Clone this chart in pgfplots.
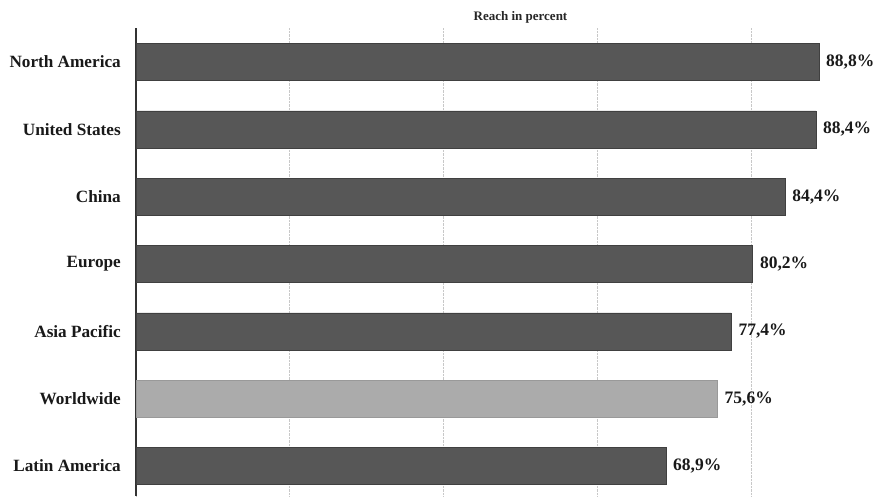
\documentclass[border=0pt]{standalone}
\usepackage{pgfplots}
\pgfplotsset{compat=1.18}
\usepackage{fontspec}
\setmainfont{Liberation Serif}
\definecolor{bardark}{HTML}{575757}
\definecolor{barlight}{HTML}{ABABAB}
\definecolor{gridc}{HTML}{C8C8C8}
\begin{document}
\begin{tikzpicture}
\useasboundingbox (0pt,0pt) rectangle (875pt,496pt);
\begin{axis}[
  at={(136pt,0pt)}, anchor=south west,
  scale only axis, width=769pt, height=468pt,
  xmin=0, xmax=100, ymin=-0.505, ymax=6.446,
  y dir=reverse,
  axis lines*=left,
  x axis line style={draw=none},
  y axis line style={draw=black!80, line width=1.6pt},
  xtick={0,20,40,60,80,100}, xticklabels={},
  xmajorgrids, grid style={densely dotted, color=gridc, line width=0.8pt},
  ytick={0,1,2,3,4,5,6},
  yticklabels={North America, United States, China, Europe, Asia Pacific, Worldwide, Latin America},
  yticklabel style={font=\fontsize{17.2}{20}\selectfont\bfseries, inner sep=0pt, xshift=-15pt, text=black!90},
  major tick length=0pt,
  xbar, bar width=37pt, bar shift=0pt,
  /pgf/number format/assume math mode=true,
  point meta=x,
  nodes near coords={\pgfmathprintnumber[fixed, fixed zerofill, precision=1, use comma]{\pgfplotspointmeta}\%},
  nodes near coords style={anchor=west, inner sep=0pt, xshift=7pt, font=\fontsize{17.5}{20}\selectfont\bfseries, text=black!90},
  clip=false,
]
\addplot[fill=bardark, draw=black!75, line width=0.6pt] coordinates {(88.8,0) (88.4,1) (84.4,2) (80.2,3) (77.4,4) (68.9,6)};
\addplot[fill=barlight, draw=black!40, line width=0.6pt] coordinates {(75.6,5)};
\node[anchor=base, yshift=8pt, font=\fontsize{13}{15}\selectfont\bfseries, text=black!85] at (axis cs:50,-0.505) {Reach in percent};
\end{axis}
\end{tikzpicture}
\end{document}
